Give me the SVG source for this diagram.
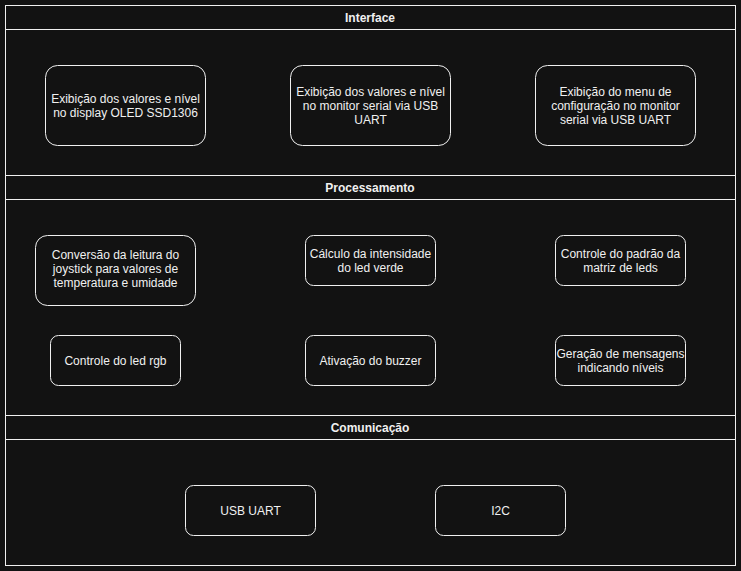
<svg xmlns="http://www.w3.org/2000/svg" width="741" height="571" viewBox="0 0 741 571">
<style>
.lane{fill:none;stroke:#f0f0f0;stroke-width:1}
.hdr{font-family:"Liberation Sans",Arial,sans-serif;font-size:12px;font-weight:bold;fill:#f0f0f0;text-anchor:middle}
.node rect{fill:#121212;stroke:#f0f0f0;stroke-width:1}
.node text{font-family:"Liberation Sans",Arial,sans-serif;font-size:12px;fill:#f0f0f0;text-anchor:middle}
</style>
<rect x="0" y="0" width="741" height="571" fill="#121212"/>
<g id="lanes">
<g id="lane-interface">
<rect class="lane" x="5.5" y="5.5" width="730" height="170"/>
<line class="lane" x1="5.5" y1="29.5" x2="735.5" y2="29.5"/>
<text class="hdr" x="370" y="22">Interface</text>
</g>
<g id="lane-processamento">
<rect class="lane" x="5.5" y="175.5" width="730" height="240"/>
<line class="lane" x1="5.5" y1="199.5" x2="735.5" y2="199.5"/>
<text class="hdr" x="370" y="192">Processamento</text>
</g>
<g id="lane-comunicacao">
<rect class="lane" x="5.5" y="415.5" width="730" height="150"/>
<line class="lane" x1="5.5" y1="439.5" x2="735.5" y2="439.5"/>
<text class="hdr" x="370" y="432">Comunicação</text>
</g>
</g>
<g id="connectors"></g>
<g id="n1" class="node"><rect x="45.5" y="65.5" width="160" height="80" rx="12"/><text x="125.5" y="103">Exibição dos valores e nível</text><text x="125.5" y="117">no display OLED SSD1306</text></g>
<g id="n2" class="node"><rect x="290.5" y="65.5" width="160" height="80" rx="12"/><text x="370.5" y="96">Exibição dos valores e nível</text><text x="370.5" y="110">no monitor serial via USB</text><text x="370.5" y="124">UART</text></g>
<g id="n3" class="node"><rect x="535.5" y="65.5" width="160" height="80" rx="12"/><text x="615.5" y="96">Exibição do menu de</text><text x="615.5" y="110">configuração no monitor</text><text x="615.5" y="124">serial via USB UART</text></g>
<g id="n4" class="node"><rect x="35.5" y="235.5" width="160" height="70" rx="12"/><text x="115.5" y="259">Conversão da leitura do</text><text x="115.5" y="273">joystick para valores de</text><text x="115.5" y="287">temperatura e umidade</text></g>
<g id="n5" class="node"><rect x="305.5" y="235.5" width="130" height="50" rx="8"/><text x="370.5" y="258">Cálculo da intensidade</text><text x="370.5" y="272">do led verde</text></g>
<g id="n6" class="node"><rect x="555.5" y="235.5" width="130" height="50" rx="8"/><text x="620.5" y="258">Controle do padrão da</text><text x="620.5" y="272">matriz de leds</text></g>
<g id="n7" class="node"><rect x="50.5" y="335.5" width="130" height="50" rx="8"/><text x="115.5" y="365">Controle do led rgb</text></g>
<g id="n8" class="node"><rect x="305.5" y="335.5" width="130" height="50" rx="8"/><text x="370.5" y="365">Ativação do buzzer</text></g>
<g id="n9" class="node"><rect x="555.5" y="335.5" width="130" height="50" rx="8"/><text x="620.5" y="358">Geração de mensagens</text><text x="620.5" y="372">indicando níveis</text></g>
<g id="n10" class="node"><rect x="185.5" y="485.5" width="130" height="50" rx="8"/><text x="250.5" y="515">USB UART</text></g>
<g id="n11" class="node"><rect x="435.5" y="485.5" width="130" height="50" rx="8"/><text x="500.5" y="515">I2C</text></g>
</svg>
